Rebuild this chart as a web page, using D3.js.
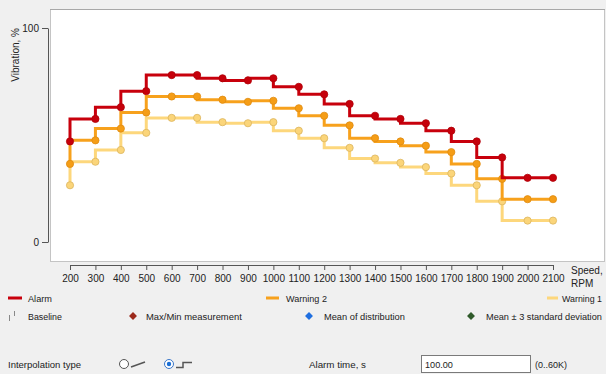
<!DOCTYPE html>
<html><head><meta charset="utf-8">
<script src="https://cdn.jsdelivr.net/npm/d3@7"></script>
<style>
html,body{margin:0;padding:0;background:#f0f0f0;}
text{font-family:"Liberation Sans",Arial,sans-serif;fill:#222;}
</style></head>
<body><svg id="c" width="606" height="374"></svg>
<script>
// ---- data ----
const speeds   = [200,300,400,500,600,700,800,900,1000,1100,1200,1300,1400,1500,1600,1700,1800,1900,2000,2100];
const alarm    = [47,57.5,63,70.5,78,78,76.5,75.5,76.5,72.5,69,64.5,59,57.5,55.5,52,47,39.5,30,30];
const warning2 = [36.5,47.5,53,60.5,68,68,66.5,65.5,66,62.5,59,54.5,48.5,47,45,42,36.5,29.5,20,20];
const warning1 = [26.5,37.5,43,51,58,58,56,55.5,56,52,48.5,44,39,37,35,32,26.5,19,10,10];
const yTicks   = [0,100];
const seriesNames = ["Alarm","Warning 2","Warning 1"];
const legend2Names = ["Baseline","Max/Min measurement","Mean of distribution","Mean \u00b1 3 standard deviation"];

const svg = d3.select("#c");
svg.append("rect").attr("width",606).attr("height",374).attr("fill","#f0f0f0");

// helper: text fitted to a width (shrinks font if too wide, stretches spacing otherwise)
function label(tx, ty, str, w, size){
  size = size || 11;
  const t = svg.append("text").attr("x",tx).attr("y",ty).style("font-size",size+"px").text(str);
  if (w) {
    const nat = t.node().getComputedTextLength();
    if (nat > w) {
      size = size * w / nat;
      t.style("font-size", size.toFixed(2)+"px");
    }
    const nat2 = t.node().getComputedTextLength();
    if (nat2 < w - 0.5) t.attr("textLength",w).attr("lengthAdjust","spacingAndGlyphs");
  }
  return t;
}

// plot box
svg.append("rect").attr("x",50.5).attr("y",9.5).attr("width",554).attr("height",252)
  .attr("fill","#fff").attr("stroke","#c4c4c4");
svg.append("line").attr("x1",50).attr("x2",605).attr("y1",9.5).attr("y2",9.5).attr("stroke","#a8a8a8");

const x = d3.scaleLinear().domain([200,2100]).range([70,553]);
const y = d3.scaleLinear().domain([0,100]).range([242,28]);

// axes
const yAxis = svg.append("g").attr("transform","translate(48,0)")
  .call(d3.axisLeft(y).tickValues(yTicks).tickSize(6).tickSizeOuter(0));
yAxis.selectAll("text").style("font-size","10px").attr("fill","#333");
yAxis.selectAll("path,line").attr("stroke","#555");

const xAxis = svg.append("g").attr("transform","translate(0,265)")
  .call(d3.axisBottom(x).tickValues(speeds).tickFormat(d3.format("d")).tickSize(5).tickSizeOuter(5));
xAxis.selectAll("text").style("font-size","10px").attr("fill","#333").attr("dy","0.9em");
xAxis.selectAll("path,line").attr("stroke","#555");

svg.append("text").attr("transform","translate(19,28) rotate(-90)").attr("text-anchor","end")
  .style("font-size","10px").attr("fill","#333").text("Vibration, %");
svg.append("text").attr("x",571).attr("y",274).style("font-size","10px").attr("fill","#333").text("Speed,");
svg.append("text").attr("x",571).attr("y",287).style("font-size","10px").attr("fill","#333").text("RPM");

// series
const series = [
  {name:seriesNames[2], vals:warning1, color:"#fdd77c", fill:"#fbd57a", stroke:"#dcb55e"},
  {name:seriesNames[1], vals:warning2, color:"#f7a11c", fill:"#f59d16", stroke:"#e08c10"},
  {name:seriesNames[0], vals:alarm,    color:"#c8000c", fill:"#c6000b", stroke:"#b00008"}
];
const line = d3.line().x((d,i)=>x(speeds[i])).y(d=>y(d)).curve(d3.curveStepBefore);
series.forEach(s=>{
  svg.append("path").datum(s.vals).attr("d",line).attr("fill","none")
    .attr("stroke",s.color).attr("stroke-width",3);
  svg.append("g").selectAll("circle").data(s.vals).join("circle")
    .attr("cx",(d,i)=>x(speeds[i])).attr("cy",d=>y(d)).attr("r",3.6)
    .attr("fill",s.fill).attr("stroke",s.stroke).attr("stroke-width",0.8);
});

// legend row 1
const leg1 = [
  {name:seriesNames[0], color:"#c8000c", x0:8, x1:22, tx:28, w:24},
  {name:seriesNames[1], color:"#f7a11c", x0:266, x1:279, tx:286, w:41},
  {name:seriesNames[2], color:"#fdd77c", x0:547, x1:558, tx:562, w:40}
];
leg1.forEach(l=>{
  svg.append("line").attr("x1",l.x0).attr("x2",l.x1).attr("y1",298).attr("y2",298)
    .attr("stroke",l.color).attr("stroke-width",3);
  label(l.tx, 302, l.name, l.w);
});

// legend row 2
svg.append("line").attr("x1",9.5).attr("x2",9.5).attr("y1",315).attr("y2",321).attr("stroke","#888");
svg.append("line").attr("x1",14.5).attr("x2",14.5).attr("y1",311).attr("y2",316).attr("stroke","#888");
label(28, 320, legend2Names[0], 34);
const diam = [
  {c:"#9c2a1c", cx:133, tx:146, w:96,  name:legend2Names[1]},
  {c:"#1f6fe0", cx:309, tx:324, w:81,  name:legend2Names[2]},
  {c:"#2f5a2a", cx:471, tx:486, w:116, name:legend2Names[3]}
];
diam.forEach(d=>{
  svg.append("path").attr("d",d3.symbol(d3.symbolDiamond2,40)())
    .attr("transform",`translate(${d.cx},316)`).attr("fill",d.c);
  label(d.tx, 320, d.name, d.w);
});

// controls row
label(8, 368, "Interpolation type", 73);
svg.append("circle").attr("cx",124).attr("cy",364).attr("r",4.5).attr("fill","#fff").attr("stroke","#555");
svg.append("line").attr("x1",131).attr("y1",367).attr("x2",145).attr("y2",362).attr("stroke","#555").attr("stroke-width",1.5);
svg.append("circle").attr("cx",169).attr("cy",364).attr("r",4.5).attr("fill","#fff").attr("stroke","#3a76c8");
svg.append("circle").attr("cx",169).attr("cy",364).attr("r",2.2).attr("fill","#1a6fd6");
svg.append("path").attr("d","M176,367.5H183V362.5H192").attr("fill","none").attr("stroke","#555").attr("stroke-width",1.5);
label(309, 368, "Alarm time, s", 57);
svg.append("rect").attr("x",421.5).attr("y",355.5).attr("width",109).attr("height",17)
  .attr("fill","#fff").attr("stroke","#7a7a7a");
label(425, 368, "100.00", 28);
label(535, 368, "(0..60K)", 32);
</script></body></html>
